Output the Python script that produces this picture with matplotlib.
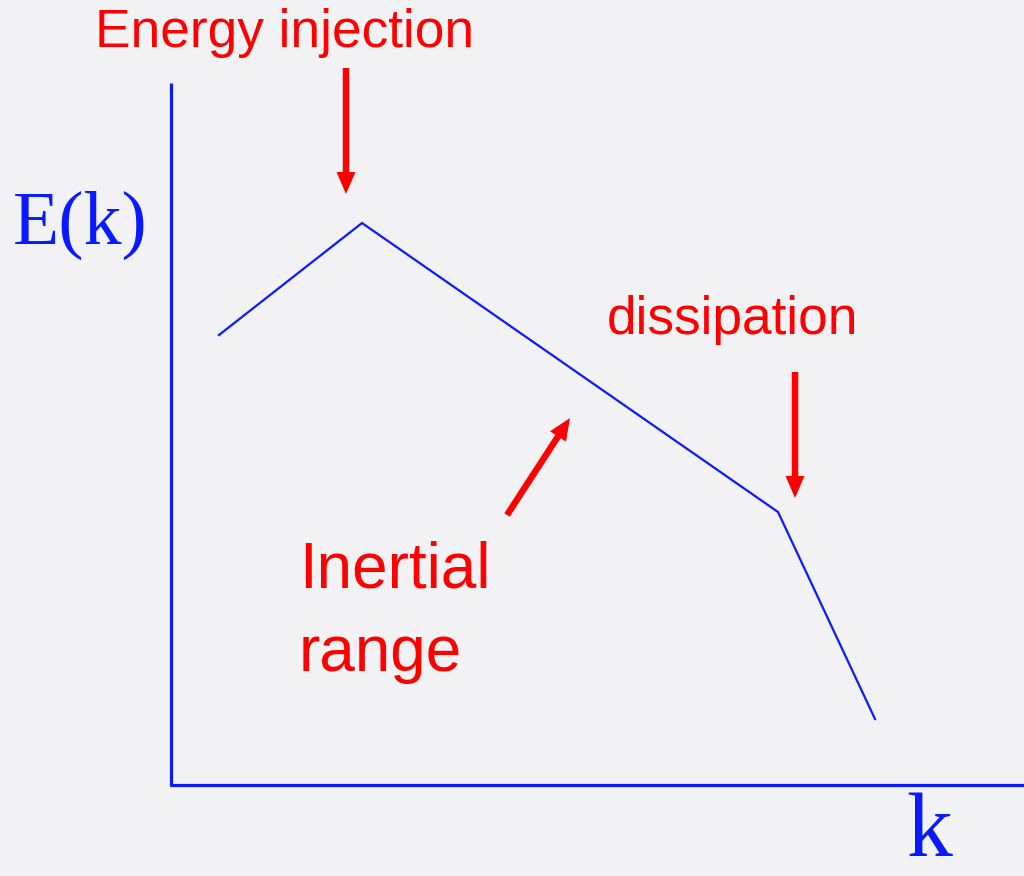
import matplotlib
matplotlib.use('Agg')
import matplotlib.pyplot as plt

# spectrum sketch (pixel-like units, y grows downward)
k_pts = [219, 362, 778, 875]
E_pts = [335, 223, 512, 719]

# arrows: (x_start, y_start, x_end, y_end)
arrows = [(346, 68, 346, 194), (795, 372, 795, 498), (507, 515, 570, 418)]

labels = ['Energy injection', 'dissipation', 'Inertial\nrange']

bg = '#f2f2f5'
blue = '#0a1aff'
red = '#ff0000'

fig = plt.figure(figsize=(10.24, 8.76), dpi=100, facecolor=bg)
ax = fig.add_axes([0, 0, 1, 1])
ax.set_facecolor(bg)
ax.set_xlim(0, 1024)
ax.set_ylim(876, 0)
ax.axis('off')

# axes of the sketch
ax.plot([171, 171], [83, 786], color=blue, lw=2.3, solid_capstyle='butt')
ax.plot([170, 1024], [785, 785], color=blue, lw=2.3, solid_capstyle='butt')

ax.plot(k_pts, E_pts, color=blue, lw=1.6)

for x0, y0, x1, y1 in arrows:
    ax.arrow(x0, y0, x1 - x0, y1 - y0, width=6.5, head_width=19, head_length=22,
             length_includes_head=True, color=red, lw=0)

ax.text(95, 33, labels[0], color=red, fontsize=38.3, family='Liberation Sans',
        ha='left', va='center')
ax.text(607, 320, labels[1], color=red, fontsize=38.3, family='Liberation Sans',
        ha='left', va='center')
ax.text(299, 612, labels[2], color=red, fontsize=46, family='Liberation Sans',
        ha='left', va='center', linespacing=1.5)

ax.text(13, 225, 'E(k)', color=blue, fontsize=54.5, family='Liberation Serif',
        ha='left', va='center')
ax.text(906, 834, 'k', color=blue, fontsize=66, family='Liberation Serif',
        ha='left', va='center')

fig.savefig('out.png', dpi=100, facecolor=bg)
